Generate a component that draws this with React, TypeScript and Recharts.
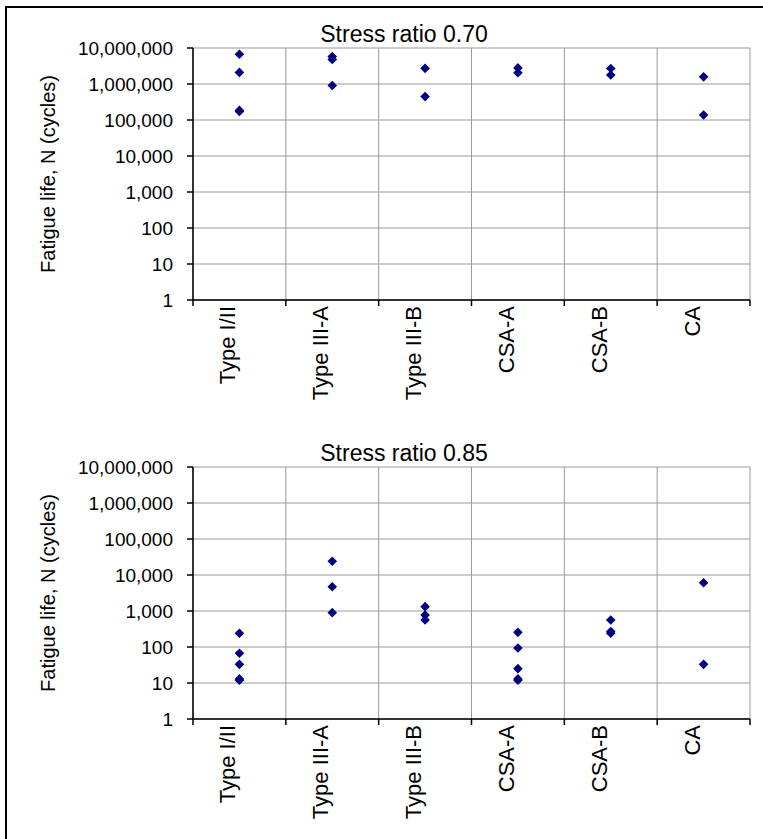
import { ScatterChart, Scatter, XAxis, YAxis, CartesianGrid } from "recharts";

const categories = ["Type I/II", "Type III-A", "Type III-B", "CSA-A", "CSA-B", "CA"];

// fatigue life (cycles) per category
const life070 = [
  [6700000, 2100000, 185000, 172000],
  [5800000, 4800000, 910000],
  [2720000, 447000],
  [2800000, 2050000],
  [2700000, 1780000],
  [1580000, 138000],
];

const life085 = [
  [240, 67, 33, 13, 12],
  [24000, 4700, 900],
  [1320, 770, 560],
  [255, 94, 25, 13, 12],
  [560, 270, 240],
  [6100, 33],
];

const yTicks = [1, 10, 100, 1000, 10000, 100000, 1000000, 10000000];
const boundaryTicks = categories.map((_, i) => i).concat(categories.length);

const FONT = "'Liberation Sans', Arial, sans-serif";
const NAVY = "#000080";

const W = 763;
const H = 420;
const M = { top: 48, right: 13, left: 0, bottom: 0 };
const Y_AXIS_W = 193;
const halfBand = (W - M.left - M.right - Y_AXIS_W) / categories.length / 2;

const fmt = (v: number) => String(v).replace(/\B(?=(\d{3})+(?!\d))/g, ",");

const toPoints = (rows: number[][]) =>
  rows.flatMap((vals, i) => vals.map((v) => ({ x: i + 0.5, y: v })));

const Diamond = (props: any) => {
  const { cx, cy } = props;
  const r = 4.8;
  return (
    <polygon
      points={`${cx},${cy - r} ${cx + r},${cy} ${cx},${cy + r} ${cx - r},${cy}`}
      fill={NAVY}
    />
  );
};

// label sits in the middle of the band to the right of each boundary tick
const CatTick = (props: any) => {
  const { x, y, payload } = props;
  const name = categories[payload.value];
  if (!name) return <g />;
  return (
    <text
      transform={`translate(${x + halfBand},${y}) rotate(-90)`}
      textAnchor="end"
      dy={-4}
      fontSize={22}
      fontFamily={FONT}
      fill="#000"
    >
      {name}
    </text>
  );
};

function Panel({ title, rows, top }: { title: string; rows: number[][]; top: number }) {
  return (
    <div style={{ position: "absolute", left: 0, top, width: W, height: H }}>
      <div
        style={{
          position: "absolute",
          left: 0,
          top: 23,
          width: 808,
          textAlign: "center",
          fontFamily: FONT,
          fontSize: 23,
          lineHeight: "23px",
          color: "#000",
        }}
      >
        {title}
      </div>
      <ScatterChart width={W} height={H} margin={M}>
        <CartesianGrid stroke="#999" strokeWidth={1} />
        <XAxis
          type="number"
          dataKey="x"
          domain={[0, categories.length]}
          ticks={boundaryTicks}
          interval={0}
          height={120}
          tick={<CatTick />}
          tickSize={6}
          tickMargin={0}
          axisLine={{ stroke: "#000", strokeWidth: 1.5 }}
          tickLine={{ stroke: "#000", strokeWidth: 1.5 }}
          allowDataOverflow
        />
        <YAxis
          type="number"
          dataKey="y"
          scale="log"
          domain={[1, 10000000]}
          ticks={yTicks}
          interval={0}
          width={Y_AXIS_W}
          tickFormatter={fmt}
          tickSize={6}
          tickMargin={14}
          tick={{ fontSize: 19, fontFamily: FONT, fill: "#000" }}
          axisLine={{ stroke: "#000", strokeWidth: 1.5 }}
          tickLine={{ stroke: "#000", strokeWidth: 1.5 }}
          allowDataOverflow
          label={{
            value: "Fatigue life, N (cycles)",
            angle: -90,
            position: "insideLeft",
            offset: 48,
            style: { textAnchor: "middle", fontSize: 20, fontFamily: FONT, fill: "#000" },
          }}
        />
        <Scatter data={toPoints(rows)} shape={<Diamond />} fill={NAVY} isAnimationActive={false} />
      </ScatterChart>
    </div>
  );
}

export default function App() {
  return (
    <div
      style={{
        position: "absolute",
        left: 0,
        top: 0,
        width: W,
        height: 839,
        overflow: "hidden",
        background: "#fff",
      }}
    >
      <div
        style={{
          position: "absolute",
          left: 5,
          top: 6,
          width: 820,
          height: 900,
          border: "2px solid #000",
        }}
      />
      <Panel title="Stress ratio 0.70" rows={life070} top={0} />
      <Panel title="Stress ratio 0.85" rows={life085} top={419} />
    </div>
  );
}
